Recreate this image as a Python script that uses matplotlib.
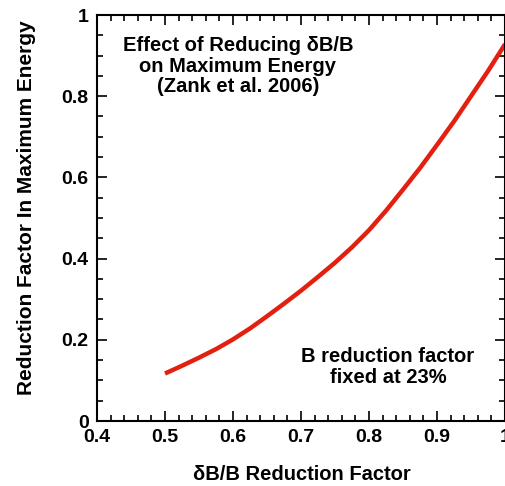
import matplotlib
matplotlib.use('Agg')
import matplotlib.pyplot as plt
from matplotlib.ticker import MultipleLocator

# dB/B reduction factor vs. resulting reduction in maximum energy
db_factor = [0.5, 0.525, 0.55, 0.575, 0.6, 0.625, 0.65, 0.675, 0.7, 0.725, 0.75,
             0.775, 0.8, 0.825, 0.85, 0.875, 0.9, 0.925, 0.95, 0.975, 1.0]
emax_factor = [0.117, 0.136, 0.156, 0.177, 0.201, 0.228, 0.258, 0.289, 0.321, 0.355, 0.390,
               0.428, 0.470, 0.518, 0.570, 0.623, 0.680, 0.738, 0.800, 0.862, 0.928]

xticks = [0.4, 0.5, 0.6, 0.7, 0.8, 0.9, 1.0]
xticklabels = ['0.4', '0.5', '0.6', '0.7', '0.8', '0.9', '1']
yticks = [0, 0.2, 0.4, 0.6, 0.8, 1.0]
yticklabels = ['0', '0.2', '0.4', '0.6', '0.8', '1']

plt.rcParams['font.family'] = ['Liberation Sans', 'DejaVu Sans']
plt.rcParams['font.weight'] = 'bold'

fig = plt.figure(figsize=(5.06, 4.86), dpi=100)
ax = fig.add_axes([97 / 506, 1 - 421 / 486, 408 / 506, 406 / 486])

ax.plot(db_factor, emax_factor, color='#e3200f', lw=3.2,
        solid_capstyle='butt', solid_joinstyle='round')

ax.set_xlim(0.4, 1.0)
ax.set_ylim(0, 1.0)
ax.set_xticks(xticks)
ax.set_xticklabels(xticklabels)
ax.set_yticks(yticks)
ax.set_yticklabels(yticklabels)
ax.xaxis.set_minor_locator(MultipleLocator(0.02))
ax.yaxis.set_minor_locator(MultipleLocator(0.05))
ax.tick_params(which='both', direction='in', top=True, right=True, width=1.2)
ax.tick_params(which='major', length=7, labelsize=14, pad=6)
ax.tick_params(which='minor', length=4)
for s in ax.spines.values():
    s.set_linewidth(1.5)

ax.set_xlabel('δB/B Reduction Factor', fontsize=14.5, fontweight='bold')
ax.set_ylabel('Reduction Factor In Maximum Energy', fontsize=15, fontweight='bold')
ax.xaxis.set_label_coords(0.502, -0.108)
ax.yaxis.set_label_coords(-0.15, 0.525)

ax.text(0.607, 0.874, 'Effect of Reducing δB/B\non Maximum Energy\n(Zank et al. 2006)',
        ha='center', va='center', fontsize=14.5, fontweight='bold', linespacing=1.1)
ax.text(0.828, 0.133, 'B reduction factor\nfixed at 23%',
        ha='center', va='center', fontsize=14.5, fontweight='bold', linespacing=1.1)

fig.savefig('out.png', dpi=100)
